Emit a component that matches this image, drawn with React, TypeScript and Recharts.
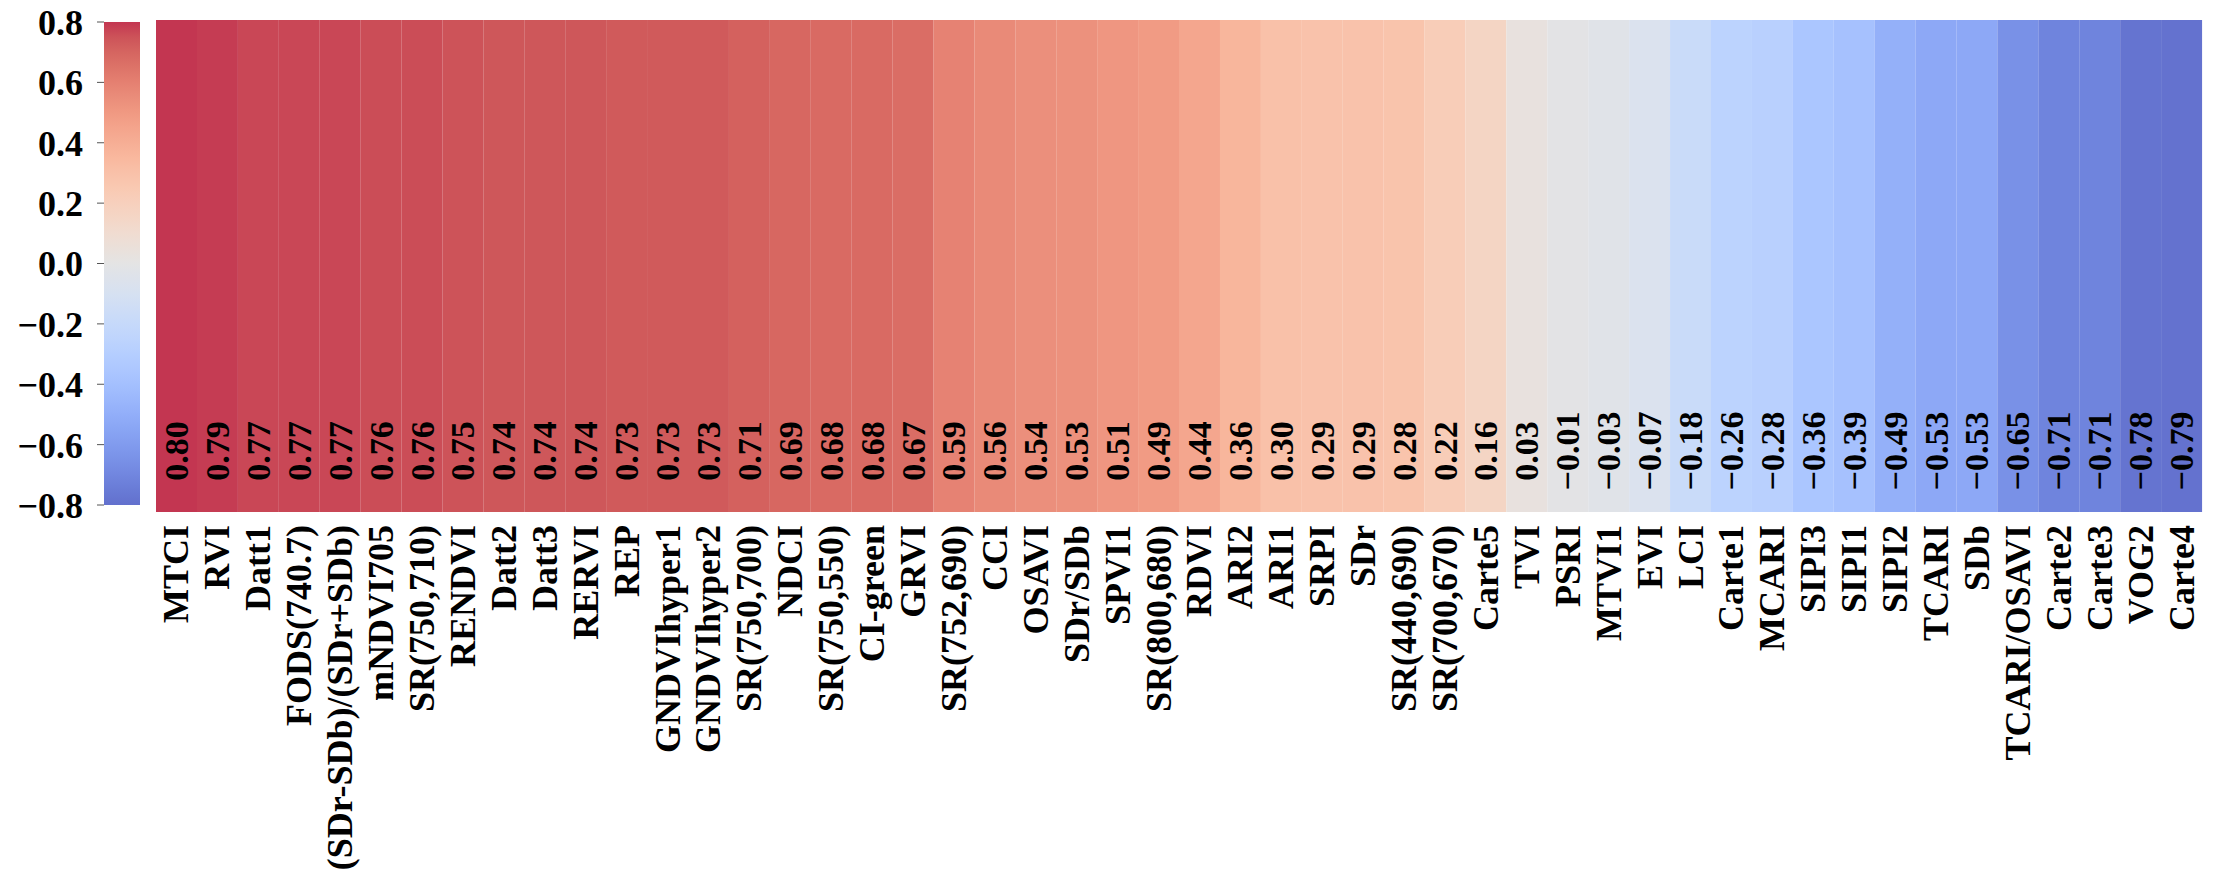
import React from 'react'
import { BarChart, Bar, XAxis, YAxis, Cell, LabelList } from 'recharts'

// vegetation indices, sorted by correlation
const INDICES = [
  'MTCI', 'RVI', 'Datt1', 'FODS(740.7)', '(SDr-SDb)/(SDr+SDb)', 'mNDVI705', 'SR(750,710)', 'RENDVI',
  'Datt2', 'Datt3', 'RERVI', 'REP', 'GNDVIhyper1', 'GNDVIhyper2', 'SR(750,700)', 'NDCI',
  'SR(750,550)', 'CI-green', 'GRVI', 'SR(752,690)', 'CCI', 'OSAVI', 'SDr/SDb', 'SPVI1',
  'SR(800,680)', 'RDVI', 'ARI2', 'ARI1', 'SRPI', 'SDr', 'SR(440,690)', 'SR(700,670)',
  'Carte5', 'TVI', 'PSRI', 'MTVI1', 'EVI', 'LCI', 'Carte1', 'MCARI',
  'SIPI3', 'SIPI1', 'SIPI2', 'TCARI', 'SDb', 'TCARI/OSAVI', 'Carte2', 'Carte3', 'VOG2', 'Carte4'
]

const CORR = [
  0.8, 0.79, 0.77, 0.77, 0.77, 0.76, 0.76, 0.75,
  0.74, 0.74, 0.74, 0.73, 0.73, 0.73, 0.71, 0.69,
  0.68, 0.68, 0.67, 0.59, 0.56, 0.54, 0.53, 0.51,
  0.49, 0.44, 0.36, 0.3, 0.29, 0.29, 0.28, 0.22,
  0.16, 0.03, -0.01, -0.03, -0.07, -0.18, -0.26, -0.28,
  -0.36, -0.39, -0.49, -0.53, -0.53, -0.65, -0.71, -0.71, -0.78, -0.79
]

const CB_RANGE = [-0.8, 0.8]
const CB_TICKS = [0.8, 0.6, 0.4, 0.2, 0, -0.2, -0.4, -0.6, -0.8]
const ROW_BAND = [0, 1] // single heatmap row

// matplotlib coolwarm, sampled
const COOLWARM = [
  [59, 76, 192], [68, 90, 204], [77, 104, 215], [87, 117, 225], [98, 130, 234], [108, 142, 241],
  [119, 154, 247], [130, 165, 251], [141, 176, 254], [152, 185, 255], [163, 194, 255], [174, 201, 253],
  [184, 208, 249], [194, 213, 244], [204, 217, 238], [213, 219, 230], [221, 221, 221], [229, 216, 209],
  [236, 211, 197], [241, 204, 184], [245, 196, 172], [247, 187, 159], [247, 177, 147], [247, 166, 134],
  [244, 154, 123], [241, 141, 111], [236, 127, 99], [229, 112, 89], [222, 96, 77], [213, 80, 66],
  [203, 62, 56], [192, 40, 47], [180, 4, 38]
]
const ALPHA = 0.8
const FONT = '"Liberation Serif", "Times New Roman", serif'

const mixWhite = (c: number[]) =>
  `rgb(${c.map((v) => Math.round(v * ALPHA + 255 * (1 - ALPHA))).join(',')})`

const coolwarm = (t: number) => {
  const s = Math.max(0, Math.min(1, t)) * (COOLWARM.length - 1)
  const i = Math.min(Math.floor(s), COOLWARM.length - 2)
  const f = s - i
  return COOLWARM[i].map((v, k) => v + (COOLWARM[i + 1][k] - v) * f)
}

const colorFor = (v: number) => mixWhite(coolwarm((v - CB_RANGE[0]) / (CB_RANGE[1] - CB_RANGE[0])))

const fmt = (v: number, d: number) => v.toFixed(d).replace('-', '\u2212')

const heatData = INDICES.map((name, i) => ({ name, r: CORR[i], band: ROW_BAND }))
const cbData = [{ k: 'cb', span: CB_RANGE }]

// top of gradient = top of colorbar (max value)
const gradStops = [...COOLWARM].reverse()

const XTick = (props: any) => {
  const { x, y, payload } = props
  return (
    <text
      transform={`translate(${x},${y + 11}) rotate(-90)`}
      textAnchor="end"
      dominantBaseline="central"
      fontFamily={FONT}
      fontWeight="bold"
      fontSize={36}
      fill="#000"
    >
      {payload.value}
    </text>
  )
}

const YTick = (props: any) => {
  const { x, y, payload } = props
  return (
    <text
      x={x}
      y={y}
      dy="0.36em"
      textAnchor="end"
      fontFamily={FONT}
      fontWeight="bold"
      fontSize={36}
      fill="#000"
    >
      {fmt(payload.value, 1)}
    </text>
  )
}

const ValueLabel = (props: any) => {
  const { x, y, width, height, index } = props
  const cx = x + width / 2
  const cy = y + height - 61
  return (
    <text
      transform={`translate(${cx},${cy}) rotate(-90)`}
      textAnchor="middle"
      dominantBaseline="central"
      fontFamily={FONT}
      fontWeight="bold"
      fontSize={34}
      fill="#000"
    >
      {fmt(CORR[index], 2)}
    </text>
  )
}

export default function App() {
  return (
    <div style={{ position: 'fixed', left: 0, top: 0, width: 2219, height: 870, background: '#fff' }}>
      <svg width={0} height={0} style={{ position: 'absolute' }}>
        <defs>
          <linearGradient id="cbGrad" x1="0" y1="0" x2="0" y2="1">
            {gradStops.map((c, i) => (
              <stop key={i} offset={i / (gradStops.length - 1)} stopColor={mixWhite(c)} />
            ))}
          </linearGradient>
        </defs>
      </svg>

      {/* colorbar */}
      <div style={{ position: 'absolute', left: 0, top: 0 }}>
        <BarChart
          width={140}
          height={870}
          data={cbData}
          margin={{ top: 22, right: 0, left: 0, bottom: 365 }}
          barCategoryGap={0}
        >
          <XAxis dataKey="k" hide />
          <YAxis
            type="number"
            domain={CB_RANGE}
            ticks={CB_TICKS}
            allowDataOverflow
            width={104}
            axisLine={false}
            tickSize={7}
            tickMargin={14}
            tickLine={{ stroke: '#555' }}
            tick={<YTick />}
          />
          <Bar dataKey="span" fill="url(#cbGrad)" isAnimationActive={false} />
        </BarChart>
      </div>

      {/* heatmap row */}
      <div style={{ position: 'absolute', left: 0, top: 0 }}>
        <BarChart
          width={2219}
          height={870}
          data={heatData}
          margin={{ top: 20, right: 17, left: 156, bottom: 0 }}
          barCategoryGap={0}
        >
          <XAxis
            dataKey="name"
            interval={0}
            height={358}
            tickLine={false}
            axisLine={false}
            tickSize={0}
            tick={<XTick />}
          />
          <YAxis type="number" domain={[0, 1]} hide />
          <Bar dataKey="band" isAnimationActive={false}>
            {heatData.map((d, i) => (
              <Cell key={i} fill={colorFor(d.r)} />
            ))}
            <LabelList dataKey="r" content={<ValueLabel />} />
          </Bar>
        </BarChart>
      </div>
    </div>
  )
}
